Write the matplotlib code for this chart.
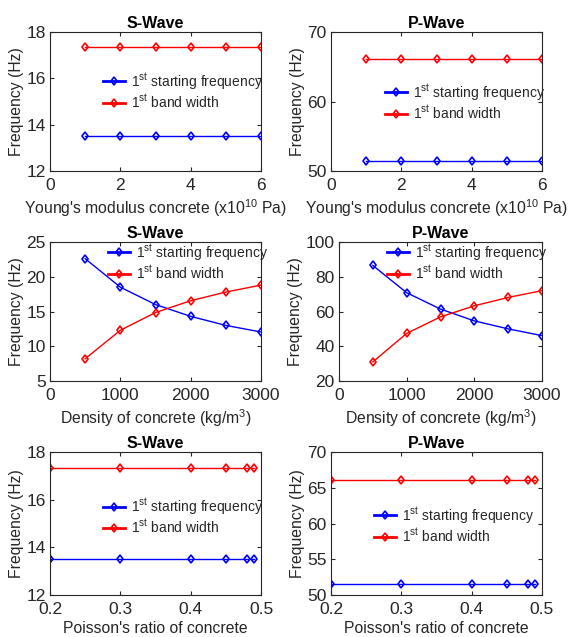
import matplotlib
matplotlib.use("Agg")
import matplotlib.pyplot as plt

plt.rcParams['font.family'] = ['Liberation Sans', 'DejaVu Sans']
plt.rcParams['mathtext.fontset'] = 'custom'
plt.rcParams['mathtext.rm'] = 'Liberation Sans'
plt.rcParams['mathtext.it'] = 'Liberation Sans:italic'
plt.rcParams['mathtext.bf'] = 'Liberation Sans:bold'

# Data
young = [1, 2, 3, 4, 5, 6]
s_young_start = [13.53, 13.53, 13.53, 13.53, 13.53, 13.53]
s_young_bw = [17.34, 17.34, 17.34, 17.34, 17.34, 17.34]
p_young_start = [51.5, 51.5, 51.5, 51.5, 51.5, 51.5]
p_young_bw = [66.1, 66.1, 66.1, 66.1, 66.1, 66.1]

density = [500, 1000, 1500, 2000, 2500, 3000]
s_dens_start = [22.6, 18.5, 16.0, 14.3, 13.0, 12.05]
s_dens_bw = [8.2, 12.3, 14.85, 16.55, 17.8, 18.8]
p_dens_start = [86.5, 70.8, 61.4, 54.6, 50.0, 46.1]
p_dens_bw = [31.0, 47.4, 56.9, 63.3, 68.1, 72.0]

poisson = [0.2, 0.3, 0.4, 0.45, 0.48, 0.49]
s_pois_start = [13.5, 13.5, 13.5, 13.5, 13.5, 13.5]
s_pois_bw = [17.34, 17.34, 17.34, 17.34, 17.34, 17.34]
p_pois_start = [51.5, 51.5, 51.5, 51.5, 51.5, 51.5]
p_pois_bw = [66.1, 66.1, 66.1, 66.1, 66.1, 66.1]

label_start = r'1$^{\mathrm{st}}$ starting frequency'
label_bw = r'1$^{\mathrm{st}}$ band width'

txt = '#262626'
W, H = 570, 637
fig = plt.figure(figsize=(5.7, 6.37), dpi=100)

def rect(l, r, t, b):
    return [l / W, 1 - b / H, (r - l) / W, (b - t) / H]

panels = [
    dict(rect=rect(50, 261, 32, 171), x=young, s=s_young_start, b=s_young_bw, title='S-Wave',
         xlim=(0, 6), xticks=[0, 2, 4, 6], ylim=(12, 18), yticks=[12, 14, 16, 18],
         xlabel=r"Young's modulus concrete (x10$^{10}$ Pa)", leg=(0.25, 0.72)),
    dict(rect=rect(331, 542, 32, 171), x=young, s=p_young_start, b=p_young_bw, title='P-Wave',
         xlim=(0, 6), xticks=[0, 2, 4, 6], ylim=(50, 70), yticks=[50, 60, 70],
         xlabel=r"Young's modulus concrete (x10$^{10}$ Pa)", leg=(0.256, 0.64)),
    dict(rect=rect(50, 261, 242, 381), x=density, s=s_dens_start, b=s_dens_bw, title='S-Wave',
         xlim=(0, 3000), xticks=[0, 1000, 2000, 3000], ylim=(5, 25), yticks=[5, 10, 15, 20, 25],
         xlabel=r"Density of concrete (kg/m$^3$)", leg=(0.275, 1.0)),
    dict(rect=rect(339, 542, 242, 381), x=density, s=p_dens_start, b=p_dens_bw, title='P-Wave',
         xlim=(0, 3000), xticks=[0, 1000, 2000, 3000], ylim=(20, 100), yticks=[20, 40, 60, 80, 100],
         xlabel=r"Density of concrete (kg/m$^3$)", leg=(0.236, 1.0)),
    dict(rect=rect(50, 261, 452, 595), x=poisson, s=s_pois_start, b=s_pois_bw, title='S-Wave',
         xlim=(0.2, 0.5), xticks=[0.2, 0.3, 0.4, 0.5], ylim=(12, 18), yticks=[12, 14, 16, 18],
         xlabel="Poisson's ratio of concrete", leg=(0.25, 0.69)),
    dict(rect=rect(331, 542, 452, 595), x=poisson, s=p_pois_start, b=p_pois_bw, title='P-Wave',
         xlim=(0.2, 0.5), xticks=[0.2, 0.3, 0.4, 0.5], ylim=(50, 70), yticks=[50, 55, 60, 65, 70],
         xlabel="Poisson's ratio of concrete", leg=(0.204, 0.63)),
]

for p in panels:
    ax = fig.add_axes(p['rect'])
    ax.plot(p['x'], p['s'], color='#0000ff', lw=1.0, marker='d', ms=4.5,
            mfc='none', mew=1.2, label=label_start)
    ax.plot(p['x'], p['b'], color='#ff0000', lw=1.0, marker='d', ms=4.5,
            mfc='none', mew=1.2, label=label_bw)
    ax.set_xlim(*p['xlim'])
    ax.set_ylim(*p['ylim'])
    ax.set_xticks(p['xticks'])
    ax.set_yticks(p['yticks'])
    ax.set_title(p['title'], fontsize=11.5, fontweight='bold', color='black', pad=3)
    ax.set_xlabel(p['xlabel'], fontsize=11.3, color=txt, labelpad=3)
    ax.set_ylabel('Frequency (Hz)', fontsize=11.3, color=txt, labelpad=2)
    ax.tick_params(direction='in', top=True, right=True, labelsize=12.5,
                   colors=txt, length=3, width=0.8)
    ax.tick_params(axis='x', pad=5)
    ax.tick_params(axis='y', pad=3)
    for sp in ax.spines.values():
        sp.set_linewidth(0.8)
        sp.set_color('#262626')
    leg = ax.legend(loc='upper left', bbox_to_anchor=p['leg'], frameon=False,
                    fontsize=10, handlelength=1.6, handletextpad=0.4,
                    borderaxespad=0, borderpad=0, labelspacing=0.1)
    for l in leg.get_lines():
        l.set_linewidth(2.0)
    for t in leg.get_texts():
        t.set_color(txt)

fig.savefig('out.png', dpi=100)
